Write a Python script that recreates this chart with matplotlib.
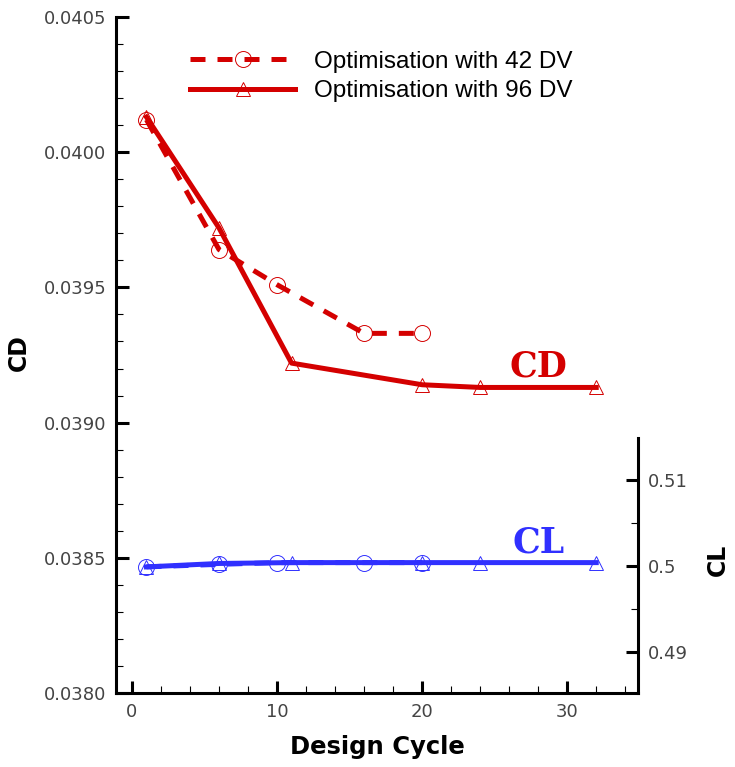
import numpy as np
import matplotlib
matplotlib.use("Agg")
import matplotlib.pyplot as plt
from matplotlib.lines import Line2D
from matplotlib.ticker import MultipleLocator, FixedLocator, FuncFormatter

# design cycles
cyc_42 = [1, 6, 10, 16, 20]
cyc_96 = [1, 6, 11, 20, 24, 32]

# drag coefficient
cd_42 = [0.04012, 0.03964, 0.03951, 0.03933, 0.03933]
cd_96 = [0.04013, 0.03972, 0.03922, 0.03914, 0.03913, 0.03913]

# lift coefficient
cl_42 = [0.4999, 0.5002, 0.5004, 0.5004, 0.5004]
cl_96 = [0.4999, 0.5003, 0.5004, 0.5004, 0.5004, 0.5004]

labels = ["Optimisation with 42 DV", "Optimisation with 96 DV"]

RED = "#D40000"
BLUE = "#3030FF"
TICKC = "#444444"

fig = plt.figure(figsize=(7.35, 7.67), dpi=100)
ax = fig.add_axes([116/735, 74/767, 522.3/735, 676/767])

lw = 3.6
ax.plot(cyc_42, cd_42, color=RED, lw=lw, dashes=(3.0, 2.4), marker="o", ms=11.5,
        mfc="none", mec=RED, mew=0.7)
ax.plot(cyc_96, cd_96, color=RED, lw=lw, marker="^", ms=10,
        mfc="none", mec=RED, mew=0.7)

ax.set_xlim(-1.1, 34.9)
ax.set_ylim(0.0380, 0.0405)
for s in ["top", "right"]:
    ax.spines[s].set_visible(False)
for s in ["left", "bottom"]:
    ax.spines[s].set_linewidth(2.2)

ax.xaxis.set_major_locator(MultipleLocator(10))
ax.xaxis.set_minor_locator(MultipleLocator(2))
ax.yaxis.set_major_locator(MultipleLocator(0.0005))
ax.yaxis.set_minor_locator(MultipleLocator(0.0001))
ax.yaxis.set_major_formatter(FuncFormatter(lambda v, p: f"{v:.4f}"))
ax.tick_params(which="major", direction="in", length=9, width=2.2, pad=7,
               labelsize=13, labelcolor=TICKC, right=False, top=False)
ax.tick_params(which="minor", direction="in", length=5, width=0.8,
               right=False, top=False)

ax.set_xlabel("Design Cycle", fontsize=17.5, fontweight="bold", labelpad=10)
ax.set_ylabel("CD", fontsize=17, fontweight="bold")
ax.yaxis.set_label_coords(-0.1627, 0.504)

# CL on a partial right axis
ax2 = ax.twinx()
ax2.plot(cyc_42, cl_42, color=BLUE, lw=lw, dashes=(3.0, 2.4), marker="o", ms=11.5,
         mfc="none", mec=BLUE, mew=0.7)
ax2.plot(cyc_96, cl_96, color=BLUE, lw=lw, marker="^", ms=10,
         mfc="none", mec=BLUE, mew=0.7)
ax2.set_ylim(0.4852, 0.5640)
for s in ["top", "left", "bottom"]:
    ax2.spines[s].set_visible(False)
ax2.spines["right"].set_linewidth(2.2)
ax2.spines["right"].set_bounds(0.4852, 0.5149)
ax2.yaxis.set_major_locator(FixedLocator([0.49, 0.50, 0.51]))
ax2.yaxis.set_minor_locator(FixedLocator([0.495, 0.505]))
ax2.yaxis.set_major_formatter(FuncFormatter(lambda v, p: f"{v:g}"))
ax2.tick_params(which="major", direction="in", length=9, width=2.2, pad=7,
                labelsize=13, labelcolor=TICKC)
ax2.tick_params(which="minor", direction="in", length=5, width=0.8)
ax2.set_ylabel("CL", fontsize=17, fontweight="bold")
ax2.yaxis.set_label_coords(1.1296, 0.1967)

ax.text(28, 0.039209, "CD", color=RED, fontsize=25, fontweight="bold",
        family="DejaVu Serif", ha="center", va="center")
ax2.text(28, 0.50277, "CL", color=BLUE, fontsize=25, fontweight="bold",
         family="DejaVu Serif", ha="center", va="center")

handles = [
    Line2D([], [], color=RED, lw=lw, dashes=(3.0, 2.4), marker="o", ms=11.5,
           mfc="none", mec=RED, mew=0.7),
    Line2D([], [], color=RED, lw=lw, marker="^", ms=10,
           mfc="none", mec=RED, mew=0.7),
]
ax2.legend(handles, labels, loc="upper left", bbox_to_anchor=(0.1417, 0.950),
           frameon=False, handlelength=4.32, handletextpad=0.8,
           labelspacing=0.3, borderpad=0, borderaxespad=0, numpoints=1,
           prop={"family": "Liberation Sans", "size": 17.5})

fig.savefig("out.png", dpi=100)
